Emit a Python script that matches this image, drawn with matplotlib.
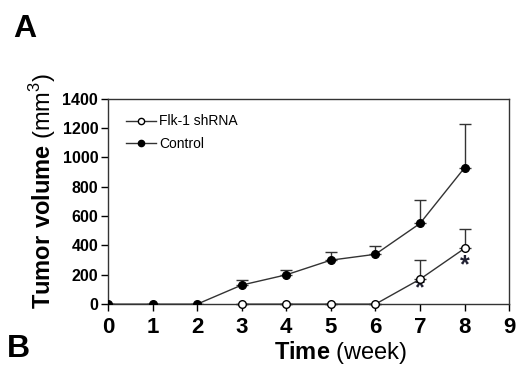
import matplotlib
matplotlib.use("Agg")
import matplotlib.pyplot as plt
from matplotlib.lines import Line2D

plt.rcParams['font.family'] = ['Liberation Sans', 'DejaVu Sans']
plt.rcParams['mathtext.fontset'] = 'custom'
plt.rcParams['mathtext.rm'] = 'Liberation Sans'
plt.rcParams['mathtext.bf'] = 'Liberation Sans:bold'

weeks = [0, 1, 2, 3, 4, 5, 6, 7, 8]
control = [0, 0, 0, 130, 200, 300, 340, 550, 930]
control_err = [0, 0, 0, 35, 35, 55, 55, 160, 300]
flk_weeks = [3, 4, 5, 6, 7, 8]
flk = [0, 0, 0, 0, 170, 380]
flk_err = [0, 0, 0, 0, 130, 135]
star_weeks = [7, 8]
star_vals = [105, 265]

fig = plt.figure(figsize=(5.19, 3.66), dpi=100)
ax = fig.add_axes([0.208, 0.169, 0.773, 0.561])

lc = '#333333'
ms = 5.5
ax.errorbar(weeks, control, yerr=[[0]*len(control), control_err], fmt='-o', color=lc,
            mfc='black', mec='black', ms=ms, lw=1, elinewidth=1, capsize=4, capthick=1,
            zorder=3)
ax.errorbar(flk_weeks, flk, yerr=[[0]*len(flk), flk_err], fmt='-o', color=lc,
            mfc='white', mec='black', ms=ms, lw=1, elinewidth=1, capsize=4, capthick=1,
            zorder=4, clip_on=False)

for x, y in zip(star_weeks, star_vals):
    ax.text(x, y, '*', ha='center', va='center', fontsize=18, fontweight='bold', color='#222233')

ax.set_xlim(0, 9)
ax.set_ylim(0, 1400)
ax.set_xticks(range(0, 10))
ax.set_yticks(range(0, 1401, 200))
for lab in ax.get_xticklabels():
    lab.set_fontsize(16); lab.set_fontweight('bold')
for lab in ax.get_yticklabels():
    lab.set_fontsize(11.5); lab.set_fontweight('bold')
ax.tick_params(direction='out', length=5, width=1)
ax.tick_params(axis='x', pad=4)
ax.tick_params(axis='y', pad=2)
for s in ax.spines.values():
    s.set_linewidth(1)
    s.set_color('#333333')

ax.set_xlabel(r'$\mathbf{Time}$ (week)', fontsize=17)
ax.xaxis.set_label_coords(0.58, -0.17)
ax.set_ylabel(r'$\mathbf{Tumor\ volume}$ (mm$^3$)', fontsize=17)
ax.yaxis.set_label_coords(-0.125, 0.55)

handles = [Line2D([], [], color=lc, lw=1, marker='o', ms=4.5, mfc='white', mec='black'),
           Line2D([], [], color=lc, lw=1, marker='o', ms=4.5, mfc='black', mec='black')]
labels = ['Flk-1 shRNA', 'Control']
ax.legend(handles, labels, loc='upper left', bbox_to_anchor=(0.015, 0.985), frameon=False,
          fontsize=10, handlelength=2.1, handletextpad=0.25, labelspacing=0.6)

fig.text(0.025, 0.9, 'A', fontsize=23, fontweight='bold')
fig.text(0.014, 0.025, 'B', fontsize=23, fontweight='bold')

fig.savefig('out.png', dpi=100)
